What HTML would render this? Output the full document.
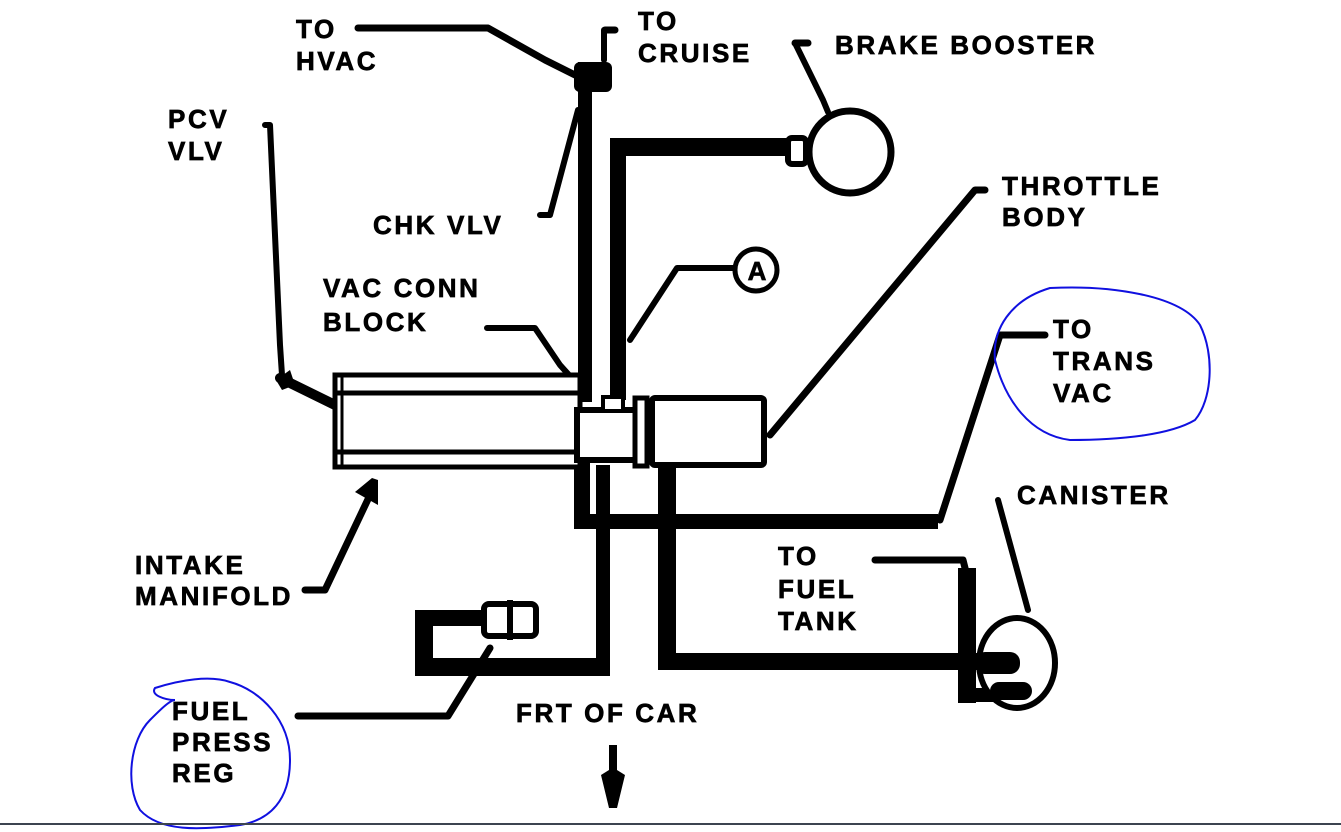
<!DOCTYPE html>
<html><head><meta charset="utf-8"><style>
html,body{margin:0;padding:0;background:#fff;}
svg{display:block;}
text{font-family:"Liberation Sans",sans-serif;font-weight:bold;font-size:26px;fill:#000;stroke:#000;stroke-width:0.7px;letter-spacing:2.6px;}
</style></head><body>
<svg width="1341" height="832" viewBox="0 0 1341 832" xmlns="http://www.w3.org/2000/svg">
<rect width="1341" height="832" fill="#fff"/>
<g fill="none" stroke="#000" stroke-linecap="round" stroke-linejoin="round">
<path d="M358 28 H488 L545 60 L575 75" stroke-width="7"/>
<path d="M605 30 H615" stroke-width="7"/>
<path d="M604 30 V60" stroke-width="6"/>
<path d="M795 43 H808" stroke-width="7"/>
<path d="M795 43 L823 100 L828 112" stroke-width="6"/>
<path d="M265 125 H270 L280 345 L282 375" stroke-width="6"/>
<path d="M280 378 L335 405" stroke-width="10"/>
<path d="M540 215 H550 L578 110" stroke-width="6"/>
<path d="M487 328 H535 L560 365 L578 385" stroke-width="6"/>
<path d="M745 268 H677 L630 340" stroke-width="6"/>
<path d="M985 190 H975 L770 435" stroke-width="7"/>
<path d="M1045 335 H1000 L940 520" stroke-width="7"/>
<path d="M998 500 L1028 610" stroke-width="6"/>
<path d="M875 560 H963 L968 580" stroke-width="7"/>
<path d="M305 590 H325 L370 495" stroke-width="7"/>
<path d="M298 716 H448 L490 648" stroke-width="7"/>
</g>
<g fill="#000">
<rect x="578" y="62" width="14" height="340"/>
<rect x="574" y="62" width="38" height="30" rx="6"/>
<rect x="610" y="138" width="16" height="262"/>
<rect x="610" y="138" width="185" height="18"/>
<rect x="574" y="455" width="16" height="73"/>
<rect x="574" y="514" width="364" height="15"/>
<rect x="596" y="465" width="14" height="210"/>
<rect x="418" y="658" width="192" height="18"/>
<rect x="415" y="610" width="18" height="66"/>
<rect x="415" y="610" width="70" height="16"/>
<rect x="658" y="465" width="18" height="205"/>
<rect x="658" y="653" width="360" height="17"/>
<rect x="958" y="568" width="18" height="135"/>
<rect x="958" y="688" width="50" height="14"/>
<path d="M355 492 L372 478 L378 480 L378 505 Z"/>
<path d="M276 380 L290 370 L295 385 L282 390 Z"/>
<path d="M609 745 H617 V770 L625 775 L617 808 H609 L601 775 L609 770 Z"/>
</g>
<rect x="335" y="375" width="245" height="92" fill="#fff" stroke="#000" stroke-width="5"/>
<line x1="335" y1="393" x2="580" y2="393" stroke="#000" stroke-width="5"/>
<line x1="335" y1="452" x2="580" y2="452" stroke="#000" stroke-width="5"/>
<line x1="342" y1="375" x2="342" y2="467" stroke="#000" stroke-width="3"/>
<rect x="577" y="410" width="60" height="50" fill="#fff" stroke="#000" stroke-width="6"/>
<rect x="603" y="397" width="20" height="14" fill="#fff" stroke="#000" stroke-width="4"/>
<rect x="635" y="398" width="12" height="68" fill="#fff" stroke="#000" stroke-width="5"/>
<rect x="652" y="398" width="112" height="67" rx="3" fill="#fff" stroke="#000" stroke-width="6"/>
<rect x="788" y="138" width="18" height="26" rx="4" fill="#fff" stroke="#000" stroke-width="6"/>
<circle cx="850" cy="152" r="41" fill="#fff" stroke="#000" stroke-width="7"/>
<circle cx="756" cy="270" r="21" fill="#fff" stroke="#000" stroke-width="5"/>
<text x="757" y="280" text-anchor="middle" font-size="24" style="letter-spacing:0">A</text>
<rect x="484" y="604" width="52" height="32" rx="5" fill="#fff" stroke="#000" stroke-width="6"/>
<line x1="510" y1="600" x2="510" y2="640" stroke="#000" stroke-width="6"/>
<ellipse cx="1017" cy="663" rx="38" ry="45" fill="#fff" stroke="#000" stroke-width="6"/>
<rect x="975" y="652" width="45" height="22" rx="10" fill="#000"/>
<rect x="990" y="682" width="42" height="18" rx="9" fill="#000"/>
<text x="296" y="38">TO</text><text x="296" y="70">HVAC</text>
<text x="638" y="30">TO</text><text x="638" y="62">CRUISE</text>
<text x="835" y="54">BRAKE BOOSTER</text>
<text x="168" y="128">PCV</text><text x="168" y="160">VLV</text>
<text x="373" y="234">CHK VLV</text>
<text x="1002" y="195">THROTTLE</text><text x="1002" y="226">BODY</text>
<text x="323" y="297">VAC CONN</text><text x="323" y="331">BLOCK</text>
<text x="1053" y="338">TO</text><text x="1053" y="370">TRANS</text><text x="1053" y="402">VAC</text>
<text x="1017" y="504">CANISTER</text>
<text x="778" y="565">TO</text><text x="778" y="598">FUEL</text><text x="778" y="630">TANK</text>
<text x="135" y="574">INTAKE</text><text x="135" y="605">MANIFOLD</text>
<text x="516" y="722">FRT OF CAR</text>
<text x="172" y="720">FUEL</text><text x="172" y="751">PRESS</text><text x="172" y="782">REG</text>
<path d="M1050 288 C1110 285 1180 295 1200 325 C1215 355 1212 400 1195 420 C1170 435 1120 440 1070 440 C1030 435 1005 400 995 360 C992 330 1010 300 1050 288 Z" fill="none" stroke="#1010e0" stroke-width="2"/>
<path d="M155 688 C180 680 210 675 230 682 C260 690 290 720 290 760 C290 800 270 820 240 825 C200 830 160 832 140 810 C125 785 130 740 150 720 C160 710 170 700 175 700 C165 700 150 695 155 688 Z" fill="none" stroke="#1010e0" stroke-width="2"/>
<line x1="0" y1="824" x2="1341" y2="824" stroke="#3c4450" stroke-width="2"/>
</svg>
</body></html>
